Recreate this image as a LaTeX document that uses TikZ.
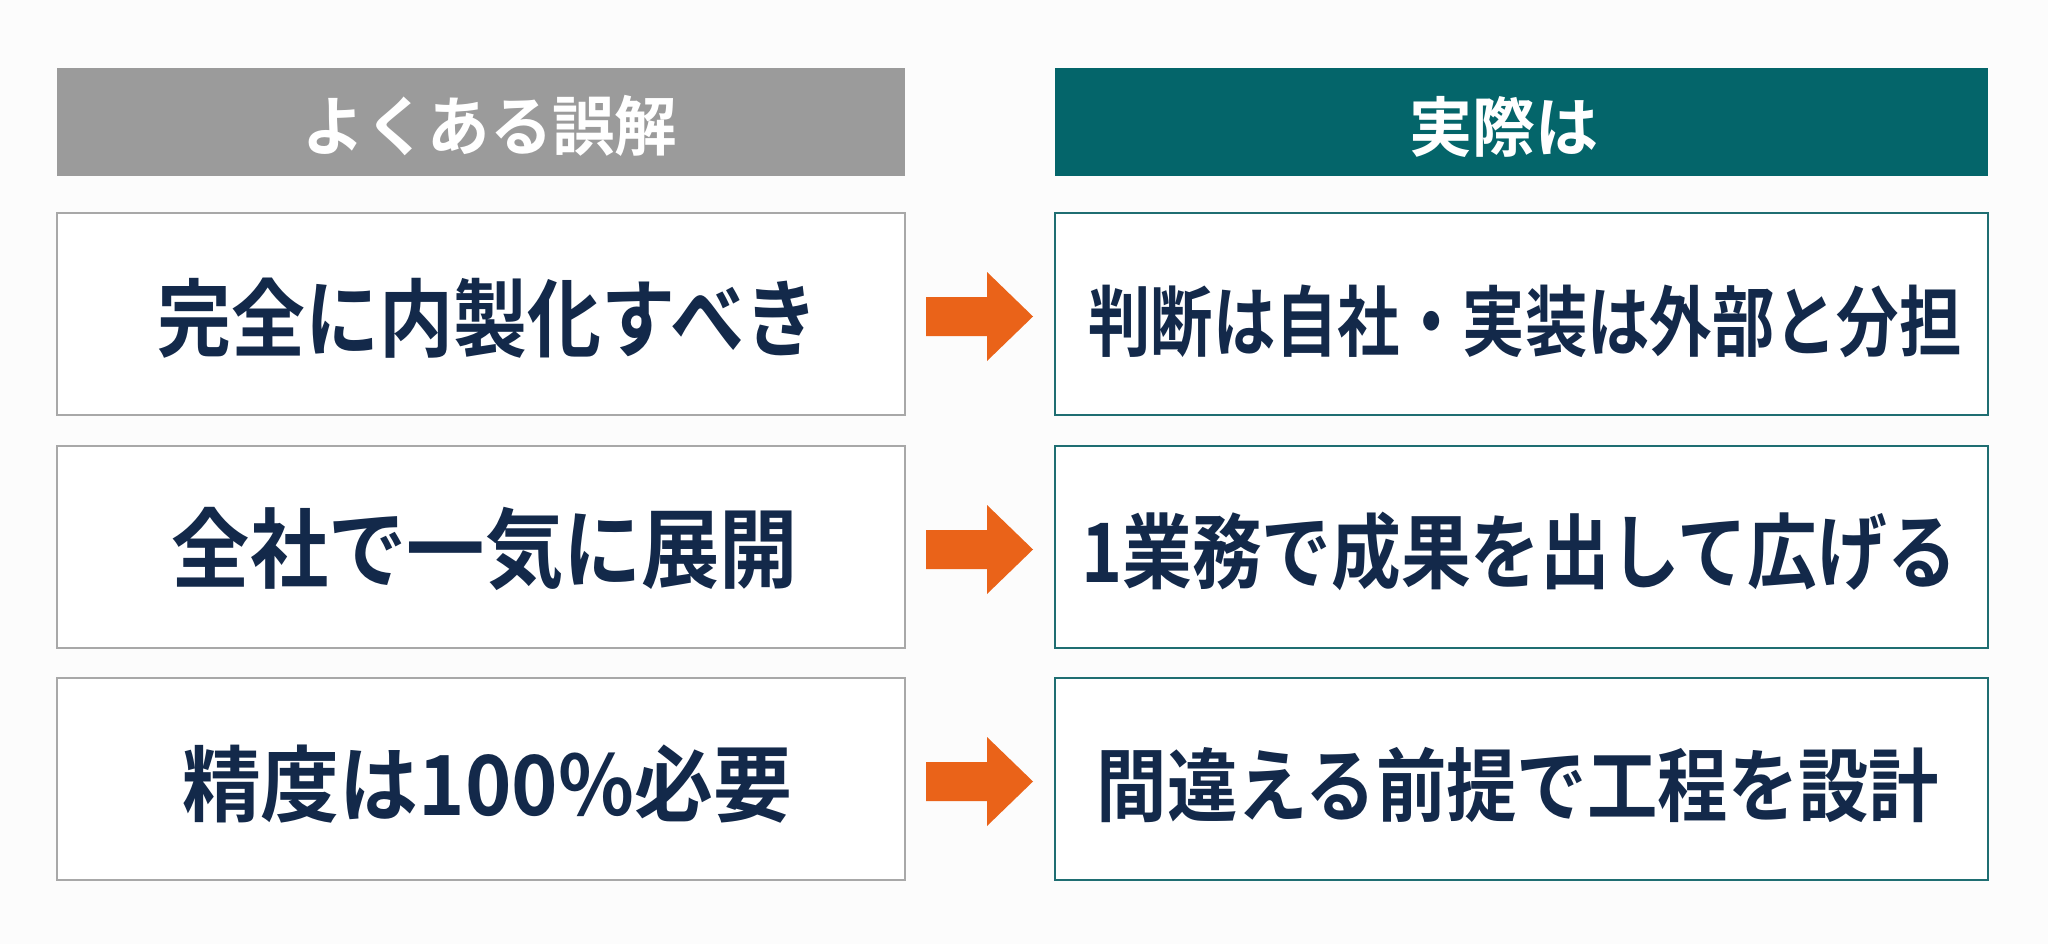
\documentclass[tikz,border=0pt]{standalone}
\usepackage{fontspec}
\newfontfamily\jpb{Noto Sans CJK JP Bold}
\usetikzlibrary{calc}
\definecolor{bgc}{HTML}{FCFCFC}
\definecolor{hgray}{HTML}{9B9B9B}
\definecolor{hteal}{HTML}{04656A}
\definecolor{navy}{HTML}{13294A}
\definecolor{orng}{HTML}{EA6319}
\definecolor{bgray}{HTML}{A8A8A8}
\definecolor{bteal}{HTML}{1F6E72}
\newcommand\jtxt[3]{\scalebox{#2}[1]{\fontsize{#1pt}{#1pt}\selectfont\jpb #3}}
\tikzset{
  lbox/.style={draw=bgray, line width=2pt, fill=white, minimum width=848, minimum height=202, inner sep=0pt, outer sep=0pt},
  rbox/.style={draw=bteal, line width=2.4pt, fill=white, minimum width=933, minimum height=202, inner sep=0pt, outer sep=0pt},
  lhead/.style={fill=hgray, minimum width=848, minimum height=108, inner sep=0pt, outer sep=0pt},
  rhead/.style={fill=hteal, minimum width=933, minimum height=108, inner sep=0pt, outer sep=0pt},
  tx/.style={text=navy, inner sep=0pt, anchor=base},
  htx/.style={text=white, inner sep=0pt, anchor=base},
  arrowc/.style={fill=orng}
}
\begin{document}
\begin{tikzpicture}[x=1pt,y=-1pt]
\fill[bgc] (0,0) rectangle (2048,944);
\useasboundingbox (0,0) rectangle (2048,944);
% headers
\node[lhead] (lh) at (481,122) {};
\node[rhead] (rh) at (1521.5,122) {};
\node[htx] (lht) at (490,151) {\jtxt{65}{0.96}{よくある誤解}};
\node[htx] (rht) at (1504,152) {\jtxt{65}{0.97}{実際は}};
% boxes
\node[lbox] (l1) at (481,314) {};
\node[lbox] (l2) at (481,547) {};
\node[lbox] (l3) at (481,779) {};
\node[rbox] (r1) at (1521.5,314) {};
\node[rbox] (r2) at (1521.5,547) {};
\node[rbox] (r3) at (1521.5,779) {};
% texts
\node[tx] (l1t) at (488,350) {\jtxt{85}{0.87}{完全に内製化すべき}};
\node[tx] (l2t) at (485,581.5) {\jtxt{87}{0.90}{全社で一気に展開}};
\node[tx] (l3t) at (487,815) {\jtxt{83}{0.95}{精度は100\%必要}};
\node[tx] (r1t) at (1525,350) {\jtxt{77}{0.81}{判断は自社・実装は外部と分担}};
\node[tx] (r2t) at (1519,582) {\jtxt{82}{0.85}{1業務で成果を出して広げる}};
\node[tx] (r3t) at (1518,815) {\jtxt{80}{0.88}{間違える前提で工程を設計}};
% arrows
\foreach \i in {1,2,3}{
  \fill[arrowc] ($(l\i.east)+(21,-17)$) -- ($(l\i.east)+(82,-17)$) -- ($(l\i.east)+(82,-42)$)
    -- ($(l\i.east)+(128,2.5)$) -- ($(l\i.east)+(82,47)$) -- ($(l\i.east)+(82,22)$)
    -- ($(l\i.east)+(21,22)$) -- cycle;
}
\end{tikzpicture}
\end{document}
